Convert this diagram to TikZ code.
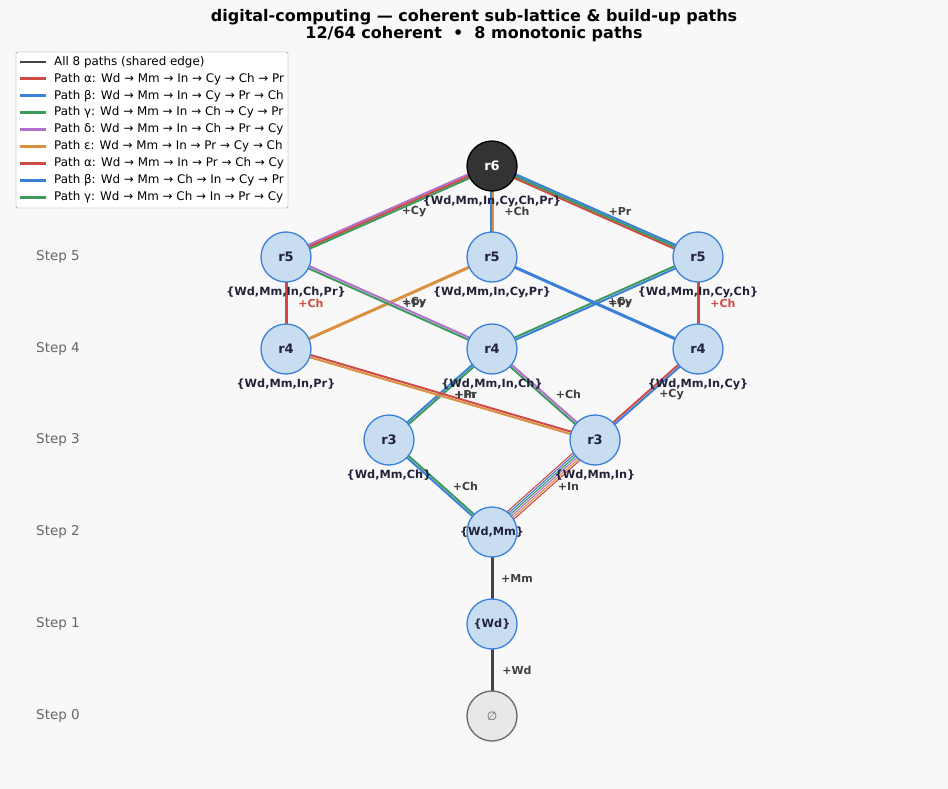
\documentclass[tikz,border=0pt]{standalone}
\usepackage{fontspec}
\setmainfont{DejaVu Sans}
\usetikzlibrary{calc}
\definecolor{bgc}{HTML}{F8F8F8}
\definecolor{pa}{HTML}{D04A45}
\definecolor{pb}{HTML}{3A7FD8}
\definecolor{pc}{HTML}{3E9A5C}
\definecolor{pd}{HTML}{B070CC}
\definecolor{pe}{HTML}{D9903F}
\definecolor{allpaths}{HTML}{444444}
\definecolor{nodefill}{HTML}{C8DEF0}
\definecolor{nodeline}{HTML}{3A80D8}
\definecolor{settext}{HTML}{22223A}
\pgfdeclarelayer{back}
\pgfdeclarelayer{edges}
\pgfsetlayers{back,edges,main}
\newcommand{\pathline}[5]{\draw[color=#3, line width=#5] ($(#1)!#4!90:(#2)$) -- ($(#2)!#4!-90:(#1)$);}

\begin{document}
\begin{tikzpicture}[x=1pt,y=-1pt]
\tikzstyle{state}=[circle, draw=nodeline, fill=nodefill, line width=1.3pt, minimum size=50pt, inner sep=0pt, text=settext, font=\bfseries\fontsize{13}{13}\selectfont]
\tikzstyle{setlab}=[font=\bfseries\fontsize{11.3}{11.3}\selectfont, text=settext, inner sep=0pt, label distance=4pt]
\tikzstyle{addlab}=[font=\bfseries\fontsize{11}{11}\selectfont, text=black!75, inner sep=0pt]
\tikzstyle{steplab}=[font=\fontsize{13.5}{13.5}\selectfont, text=black!60, anchor=west, inner sep=0pt]

\begin{pgfonlayer}{back}
\fill[bgc] (0,0) rectangle (948,789);
\end{pgfonlayer}
\useasboundingbox (0,0) rectangle (948,789);

% title
\node[font=\bfseries\fontsize{16}{16}\selectfont] (title1) at (474,17) {digital-computing — coherent sub-lattice \& build-up paths};
\node[font=\bfseries\fontsize{16}{16}\selectfont] (title2) at (474,34) {12/64 coherent \ • \ 8 monotonic paths};

% step labels
\foreach \s/\y in {5/257,4/349,3/440,2/532,1/624,0/716}
   \node[steplab] (step\s) at (36,\y) {Step \s};

% lattice
\node[state, fill=black!80, draw=black, text=white, label={[setlab]below:\{Wd,Mm,In,Cy,Ch,Pr\}}] (r6) at (492,166) {r6};
\node[state, label={[setlab]below:\{Wd,Mm,In,Ch,Pr\}}] (r5a) at (286,257) {r5};
\node[state, label={[setlab]below:\{Wd,Mm,In,Cy,Pr\}}] (r5b) at (492,257) {r5};
\node[state, label={[setlab]below:\{Wd,Mm,In,Cy,Ch\}}] (r5c) at (698,257) {r5};
\node[state, label={[setlab]below:\{Wd,Mm,In,Pr\}}] (r4a) at (286,349) {r4};
\node[state, label={[setlab]below:\{Wd,Mm,In,Ch\}}] (r4b) at (492,349) {r4};
\node[state, label={[setlab]below:\{Wd,Mm,In,Cy\}}] (r4c) at (698,349) {r4};
\node[state, label={[setlab]below:\{Wd,Mm,Ch\}}] (r3a) at (389,440) {r3};
\node[state, label={[setlab]below:\{Wd,Mm,In\}}] (r3b) at (595,440) {r3};
\node[state, label={[setlab]center:\{Wd,Mm\}}] (r2) at (492,532) {};
\node[state, label={[setlab]center:\{Wd\}}] (r1) at (492,624) {};
\node[state, fill=black!9, draw=black!60, text=black!60, font=\fontsize{12}{12}\selectfont] (r0) at (492,716) {∅};

\begin{pgfonlayer}{edges}
\foreach \a/\b/\c/\o/\w in {
   r5a/r6/pd/2/2, r5a/r6/pa/0/2, r5a/r6/pc/-2/2,
   r5b/r6/pb/1.2/2, r5b/r6/pe/-1.2/2,
   r5c/r6/pa/2/2, r5c/r6/pc/0/2, r5c/r6/pb/-2/2,
   r4a/r5a/pa/0/3, r4a/r5b/pe/0/3,
   r4b/r5a/pc/1.2/2, r4b/r5a/pd/-1.2/2,
   r4b/r5c/pc/1.2/2, r4b/r5c/pb/-1.2/2,
   r4c/r5b/pb/0/3, r4c/r5c/pa/0/3,
   r3a/r4b/pb/1.2/2, r3a/r4b/pc/-1.2/2,
   r3b/r4a/pe/1.2/2, r3b/r4a/pa/-1.2/2,
   r3b/r4b/pc/1.2/2, r3b/r4b/pd/-1.2/2,
   r3b/r4c/pa/1.2/2, r3b/r4c/pb/-1.2/2,
   r2/r3a/pb/1.2/2, r2/r3a/pc/-1.2/2,
   r2/r3b/pa/5/1.1, r2/r3b/pb/3/1.1, r2/r3b/pc/1/1.1,
   r2/r3b/pd/-1/1.1, r2/r3b/pe/-3/1.1, r2/r3b/pa/-5/1.1,
   r1/r2/allpaths/0/3, r0/r1/allpaths/0/3}
{
   \pathline{\a}{\b}{\c}{\o pt}{\w pt}
}
\end{pgfonlayer}

% added element on each edge
\foreach \a/\b/\t in {r5a/r6/Cy, r5b/r6/Ch, r5c/r6/Pr, r4a/r5b/Cy, r4b/r5a/Pr, r4b/r5c/Cy, r4c/r5b/Pr,
   r3a/r4b/In, r3b/r4a/Pr, r3b/r4b/Ch, r3b/r4c/Cy, r2/r3a/Ch, r2/r3b/In, r1/r2/Mm, r0/r1/Wd}
   \node[addlab] (add-\a-\b) at ($(\a)!0.5!(\b)+(25,0)$) {+\t};
\foreach \a/\b in {r4a/r5a, r4c/r5c}
   \node[addlab, text=pa] (add-\a-\b) at ($(\a)!0.5!(\b)+(25,0)$) {+Ch};

% legend
\draw[black!45, fill=white, rounded corners=2pt] (16,52) rectangle (288,208);
\foreach \c/\t [count=\i from 0] in {
   allpaths/All 8 paths (shared edge),
   pa/Path α: Wd → Mm → In → Cy → Ch → Pr,
   pb/Path β: Wd → Mm → In → Cy → Pr → Ch,
   pc/Path γ: Wd → Mm → In → Ch → Cy → Pr,
   pd/Path δ: Wd → Mm → In → Ch → Pr → Cy,
   pe/Path ε: Wd → Mm → In → Pr → Cy → Ch,
   pa/Path α: Wd → Mm → In → Pr → Ch → Cy,
   pb/Path β: Wd → Mm → Ch → In → Cy → Pr,
   pc/Path γ: Wd → Mm → Ch → In → Pr → Cy}
{
   \draw[color=\c, line width=2.8pt] (20,62+16.9*\i) -- (46,62+16.9*\i);
   \node[anchor=west, inner sep=0pt, font=\fontsize{11.9}{11.9}\selectfont] (leg\i) at (54,62+16.9*\i) {\t};
}
\end{tikzpicture}
\end{document}
